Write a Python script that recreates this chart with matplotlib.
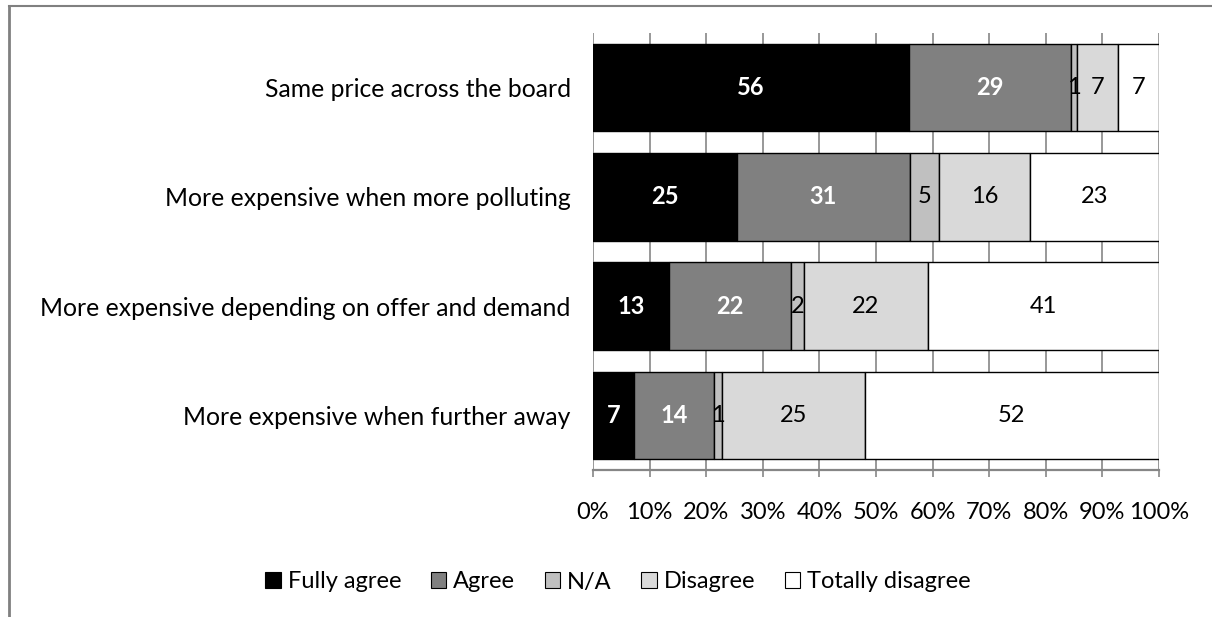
import matplotlib
matplotlib.use("Agg")
import matplotlib.pyplot as plt
from matplotlib.lines import Line2D
from matplotlib.patches import Patch
import numpy as np

plt.rcParams['font.family'] = ['Lato', 'DejaVu Sans']

categories = [
    "Same price across the board",
    "More expensive when more polluting",
    "More expensive depending on offer and demand",
    "More expensive when further away",
]
series_names = ["Fully agree", "Agree", "N/A", "Disagree", "Totally disagree"]
fully_agree = [55.8, 25.4, 13.4, 7.3]
agree = [28.6, 30.6, 21.6, 14.1]
na = [1.2, 5.2, 2.2, 1.4]
disagree = [7.2, 16.0, 21.9, 25.2]
totally_disagree = [7.2, 22.8, 40.9, 52.0]
tick_labels = ["0%", "10%", "20%", "30%", "40%", "50%", "60%", "70%", "80%", "90%", "100%"]

series = [fully_agree, agree, na, disagree, totally_disagree]
colors = ["#000000", "#808080", "#c0c0c0", "#d9d9d9", "#ffffff"]
label_colors = ["white", "white", "black", "black", "black"]
label_weights = ["bold", "bold", "normal", "normal", "normal"]

W, H = 1212, 617
fig = plt.figure(figsize=(W / 100, H / 100), dpi=100)
ax = fig.add_axes([593 / W, 1 - 470 / H, (1159 - 593) / W, (470 - 33) / H])

y = np.arange(len(categories))
left = np.zeros(len(categories))
for vals, c, lc, lw_, name in zip(series, colors, label_colors, label_weights, series_names):
    bars = ax.barh(y, vals, left=left, height=0.8, color=c, edgecolor="black",
                   linewidth=1.0, label=name, zorder=3)
    ax.bar_label(bars, labels=[f"{v:.0f}" for v in vals], label_type="center",
                 color=lc, fontweight=lw_, fontsize=17, zorder=4)
    left = left + np.array(vals)

ax.set_xlim(0, 100)
ax.set_ylim(len(categories) - 0.5, -0.5)
ax.set_xticks(np.arange(0, 101, 10))
ax.set_xticklabels(tick_labels, fontsize=17)
ax.set_yticks(y)
ax.set_yticklabels(categories, fontsize=17.8)
ax.tick_params(axis="y", length=0, pad=16)
ax.tick_params(axis="x", length=5, color="#868686", width=1.2, pad=18)
ax.xaxis.grid(True, color="#868686", linewidth=1.2, zorder=0)
ax.set_axisbelow(True)
for s in ["top", "right", "left"]:
    ax.spines[s].set_visible(False)
ax.spines["bottom"].set_color("#868686")
ax.spines["bottom"].set_linewidth(1.6)

handles = [Patch(facecolor=c, edgecolor="black", linewidth=0.8) for c in colors]
fig.legend(handles, series_names, loc="center", bbox_to_anchor=(618 / W, 1 - 582 / H),
           ncol=5, frameon=False, fontsize=17, handlelength=0.65, handleheight=0.65,
           handletextpad=0.3, columnspacing=1.25)

gray = "#808080"
fig.add_artist(Line2D([8.5 / W, 8.5 / W], [0, 1 - 6 / H], transform=fig.transFigure,
                      color=gray, linewidth=2))
fig.add_artist(Line2D([8.5 / W, 1], [1 - 6 / H, 1 - 6 / H], transform=fig.transFigure,
                      color=gray, linewidth=1.5))

fig.savefig("out.png", dpi=100)
